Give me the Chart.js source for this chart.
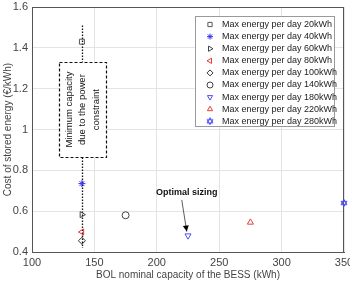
<!DOCTYPE html>
<html><head><meta charset="utf-8">
<script src="https://cdn.jsdelivr.net/npm/chart.js@4/dist/chart.umd.min.js"></script>
<style>html,body{margin:0;padding:0;background:#fff}#wrap{width:350px;height:281px}</style>
</head><body><div id="wrap"><canvas id="c" width="350" height="281"></canvas></div>
<script>
const seriesLabels = ['Max energy per day 20kWh','Max energy per day 40kWh','Max energy per day 60kWh','Max energy per day 80kWh','Max energy per day 100kWh','Max energy per day 140kWh','Max energy per day 180kWh','Max energy per day 220kWh','Max energy per day 280kWh'];
const capacity = [140, 140, 140, 140, 140, 175, 225, 275, 350];
const cost = [1.43, 0.735, 0.583, 0.498, 0.455, 0.58, 0.48, 0.545, 0.64];
const markerStyles = ['rect','star','triangle','triangle','rectRot','circle','triangle','triangle','hexagram'];
const markerRotations = [0, 0, 90, -90, 0, 0, 180, 0, 0];
const markerColors = ['#555555','#3333ee','#444444','#e03a3a','#333333','#444444','#5050f0','#e04040','#4a4aff'];
const xTicks = [100, 150, 200, 250, 300, 350];
const yTicks = [0.4, 0.6, 0.8, 1, 1.2, 1.4, 1.6];
const constraintLine = {x: 140, yFrom: 1.51, yTo: 0.42};
const constraintBox = {x0: 121.5, x1: 159.5, y0: 0.865, y1: 1.33};
const constraintText = ['Minimum capacity', 'due to the power', 'constraint'];
const optimalLabel = {text: 'Optimal sizing', x: 224, y: 0.69, fromX: 220, fromY: 0.655, toX: 224, toY: 0.5};

function hexagram(color) {
  const c = document.createElement('canvas');
  c.width = 8; c.height = 8;
  const g = c.getContext('2d');
  g.strokeStyle = color; g.lineWidth = 1;
  const r = 3.4, cx = 4, cy = 4;
  [ -Math.PI/2, Math.PI/2 ].forEach(a0 => {
    g.beginPath();
    for (let i = 0; i < 3; i++) {
      const a = a0 + i * 2 * Math.PI / 3;
      const px = cx + r * Math.cos(a), py = cy + r * Math.sin(a);
      if (i === 0) g.moveTo(px, py); else g.lineTo(px, py);
    }
    g.closePath(); g.stroke();
  });
  return c;
}
const styleOf = i => markerStyles[i] === 'hexagram' ? hexagram(markerColors[i]) : markerStyles[i];

const datasets = seriesLabels.map((lab, i) => ({
  label: lab,
  data: [{x: capacity[i], y: cost[i]}],
  pointStyle: styleOf(i),
  rotation: markerRotations[i],
  pointRadius: 3.5,
  borderColor: markerColors[i],
  backgroundColor: 'rgba(0,0,0,0)',
  borderWidth: 1,
  clip: false
}));

const FONT = '"Liberation Sans", Arial, sans-serif';

const overlay = {
  id: 'overlay',
  beforeDatasetsDraw(chart) {
    const {ctx, chartArea: a, scales: {x, y}} = chart;
    ctx.save();
    ctx.strokeStyle = '#555'; ctx.lineWidth = 1;
    ctx.strokeRect(a.left + 0.5, a.top + 0.5, a.right - a.left - 1, a.bottom - a.top);
    ctx.strokeStyle = '#111'; ctx.lineWidth = 1.3; ctx.setLineDash([1.5, 1.5]);
    const lx = Math.round(x.getPixelForValue(constraintLine.x)) + 0.5;
    ctx.beginPath();
    ctx.moveTo(lx, y.getPixelForValue(constraintLine.yFrom));
    ctx.lineTo(lx, y.getPixelForValue(constraintLine.yTo));
    ctx.stroke();
    const bx0 = x.getPixelForValue(constraintBox.x0), bx1 = x.getPixelForValue(constraintBox.x1);
    const by0 = y.getPixelForValue(constraintBox.y1), by1 = y.getPixelForValue(constraintBox.y0);
    ctx.setLineDash([3, 2]); ctx.lineWidth = 1.2;
    ctx.fillStyle = '#fff';
    ctx.fillRect(bx0, by0, bx1 - bx0, by1 - by0);
    ctx.strokeRect(Math.round(bx0) + 0.5, Math.round(by0) + 0.5, Math.round(bx1 - bx0), Math.round(by1 - by0));
    ctx.setLineDash([]);
    ctx.translate((bx0 + bx1) / 2, (by0 + by1) / 2);
    ctx.rotate(-Math.PI / 2);
    ctx.fillStyle = '#111'; ctx.font = '9.5px ' + FONT;
    ctx.textAlign = 'center'; ctx.textBaseline = 'middle';
    constraintText.forEach((t, i) => ctx.fillText(t, 0, (i - 1) * 13.5));
    ctx.restore();
    ctx.save();
    ctx.fillStyle = '#111'; ctx.font = 'bold 9px ' + FONT;
    ctx.textAlign = 'center'; ctx.textBaseline = 'middle';
    ctx.fillText(optimalLabel.text, x.getPixelForValue(optimalLabel.x), y.getPixelForValue(optimalLabel.y));
    const fx = x.getPixelForValue(optimalLabel.fromX), fy = y.getPixelForValue(optimalLabel.fromY);
    const tx = x.getPixelForValue(optimalLabel.toX), ty = y.getPixelForValue(optimalLabel.toY);
    ctx.strokeStyle = '#333'; ctx.lineWidth = 0.8;
    ctx.beginPath(); ctx.moveTo(fx, fy); ctx.lineTo(tx, ty); ctx.stroke();
    const ang = Math.atan2(ty - fy, tx - fx);
    ctx.fillStyle = '#000';
    ctx.beginPath();
    ctx.moveTo(tx, ty);
    ctx.lineTo(tx - 6 * Math.cos(ang) + 3 * Math.sin(ang), ty - 6 * Math.sin(ang) - 3 * Math.cos(ang));
    ctx.lineTo(tx - 6 * Math.cos(ang) - 3 * Math.sin(ang), ty - 6 * Math.sin(ang) + 3 * Math.cos(ang));
    ctx.closePath(); ctx.fill();
    ctx.restore();
  },
  afterDraw(chart) {
    const {ctx, chartArea: a} = chart;
    const L = a.right - 149, T = a.top + 9, W = 139, H = 110;
    ctx.save();
    ctx.fillStyle = '#fff';
    ctx.fillRect(L, T, W, H);
    ctx.strokeStyle = '#9a9a9a'; ctx.lineWidth = 1;
    ctx.strokeRect(L + 0.5, T + 0.5, W, H);
    ctx.font = '9px ' + FONT; ctx.textBaseline = 'middle'; ctx.textAlign = 'left';
    chart.data.datasets.forEach((ds, i) => {
      const ry = T + 8.5 + i * 12.1;
      ctx.strokeStyle = ds.borderColor; ctx.fillStyle = 'rgba(0,0,0,0)';
      Chart.helpers.drawPoint(ctx, {pointStyle: ds.pointStyle, rotation: ds.rotation, radius: 3, borderWidth: 1}, L + 15, ry);
      ctx.fillStyle = '#222';
      ctx.fillText(ds.label, L + 27, ry);
    });
    ctx.restore();
  }
};

new Chart(document.getElementById('c'), {
  type: 'scatter',
  data: {datasets},
  options: {
    responsive: false, animation: false, devicePixelRatio: 1,
    layout: {padding: {top: 7, right: 6, left: 0, bottom: 0}},
    plugins: {legend: {display: false}, tooltip: {enabled: false}},
    scales: {
      x: {
        type: 'linear', min: 100, max: 350,
        afterBuildTicks: s => { s.ticks = xTicks.map(v => ({value: v})); },
        afterFit: s => { s.height = 29; s.paddingLeft = 0; s.paddingRight = 0; },
        grid: {color: '#e4e4e4', drawTicks: false},
        border: {color: '#555'},
        ticks: {padding: 4, color: '#444', font: {family: FONT, size: 11}, maxRotation: 0},
        title: {display: true, text: 'BOL nominal capacity of the BESS (kWh)', color: '#444', font: {family: FONT, size: 10}, padding: 0}
      },
      y: {
        min: 0.4, max: 1.6,
        afterBuildTicks: s => { s.ticks = yTicks.map(v => ({value: v})); },
        afterFit: s => { s.width = 32; s.paddingTop = 0; s.paddingBottom = 0; },
        grid: {color: '#e4e4e4', drawTicks: false},
        border: {color: '#555'},
        ticks: {padding: 4, color: '#444', font: {family: FONT, size: 11}, callback: v => String(+v.toFixed(1))},
        title: {display: true, text: 'Cost of stored energy (€/kWh)', color: '#444', font: {family: FONT, size: 10}, padding: {top: 2, bottom: 0}}
      }
    }
  },
  plugins: [overlay]
});
</script>
</body></html>
